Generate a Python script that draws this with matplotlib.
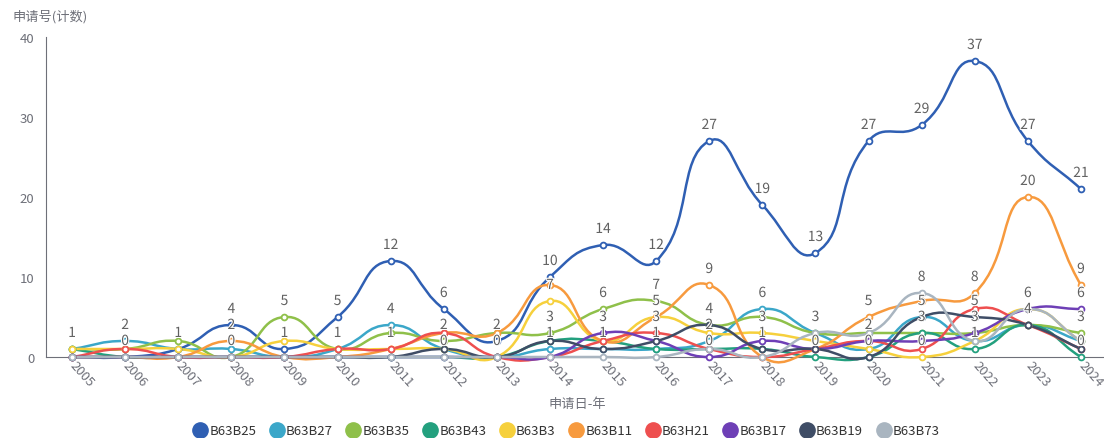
import matplotlib
matplotlib.use("Agg")
import matplotlib.pyplot as plt
import matplotlib.patheffects as pe
from matplotlib.path import Path
from matplotlib.patches import PathPatch
from matplotlib.lines import Line2D
import numpy as np

plt.rcParams["font.family"] = ["Noto Sans CJK SC", "DejaVu Sans"]

# ---------------------------------------------------------------------------
# Data
# ---------------------------------------------------------------------------
years = [str(y) for y in range(2005, 2025)]

series_names = ["B63B25", "B63B27", "B63B35", "B63B43", "B63B3",
                "B63B11", "B63H21", "B63B17", "B63B19", "B63B73"]

b63b25 = [0, 0, 1, 4, 1, 5, 12, 6, 2, 10, 14, 12, 27, 19, 13, 27, 29, 37, 27, 21]
b63b27 = [1, 2, 1, 1, 0, 1, 4, 1, 0, 1, 1, 1, 2, 6, 3, 1, 5, 2, 4, 2]
b63b35 = [1, 1, 2, 0, 5, 1, 3, 2, 3, 3, 6, 7, 4, 5, 3, 3, 3, 3, 4, 3]
b63b43 = [1, 0, 0, 0, 0, 0, 0, 0, 0, 2, 2, 1, 1, 1, 0, 0, 3, 1, 4, 0]
b63b3 = [1, 1, 1, 0, 2, 1, 1, 1, 0, 7, 2, 5, 3, 3, 2, 1, 0, 2, 6, 2]
b63b11 = [0, 0, 0, 2, 0, 0, 1, 3, 3, 9, 2, 5, 9, 0, 1, 5, 7, 8, 20, 9]
b63h21 = [0, 1, 0, 0, 0, 1, 1, 3, 0, 0, 2, 3, 1, 0, 1, 2, 1, 6, 4, 1]
b63b17 = [0, 0, 0, 0, 0, 0, 0, 0, 0, 0, 3, 2, 0, 2, 1, 2, 2, 3, 6, 6]
b63b19 = [0, 0, 0, 0, 0, 0, 0, 1, 0, 2, 1, 2, 4, 1, 1, 0, 5, 5, 4, 1]
b63b73 = [0, 0, 0, 0, 0, 0, 0, 0, 0, 0, 0, 0, 1, 0, 3, 3, 8, 2, 6, 2]

series_values = [b63b25, b63b27, b63b35, b63b43, b63b3,
                 b63b11, b63h21, b63b17, b63b19, b63b73]

colors = ["#2f5fb3", "#3ba7c9", "#8fc04a", "#23a07e", "#f6d03c",
          "#f79a3e", "#ee4f4f", "#6e3fb6", "#3f4d66", "#a9b5c0"]

# data labels that stay visible in the reference: (series, year)
shown_labels = [
    ("B63B3", "2005"), ("B63B27", "2006"), ("B63B25", "2006"),
    ("B63B27", "2007"), ("B63B25", "2008"), ("B63B11", "2008"),
    ("B63B43", "2008"), ("B63B35", "2009"), ("B63B25", "2009"),
    ("B63B25", "2010"), ("B63H21", "2010"), ("B63B25", "2011"),
    ("B63B27", "2011"), ("B63H21", "2011"), ("B63B25", "2012"),
    ("B63B35", "2012"), ("B63B43", "2012"), ("B63B25", "2013"),
    ("B63B43", "2013"), ("B63B25", "2014"), ("B63B3", "2014"),
    ("B63B35", "2014"), ("B63B27", "2014"), ("B63B25", "2015"),
    ("B63B35", "2015"), ("B63B17", "2015"), ("B63B19", "2015"),
    ("B63B25", "2016"), ("B63B35", "2016"), ("B63B11", "2016"),
    ("B63H21", "2016"), ("B63B27", "2016"), ("B63B25", "2017"),
    ("B63B11", "2017"), ("B63B35", "2017"), ("B63B27", "2017"),
    ("B63B17", "2017"), ("B63B25", "2018"), ("B63B27", "2018"),
    ("B63B3", "2018"), ("B63B19", "2018"), ("B63B25", "2019"),
    ("B63B73", "2019"), ("B63B43", "2019"), ("B63B25", "2020"),
    ("B63B11", "2020"), ("B63B17", "2020"), ("B63B19", "2020"),
    ("B63B25", "2021"), ("B63B73", "2021"), ("B63B27", "2021"),
    ("B63B35", "2021"), ("B63B3", "2021"), ("B63B25", "2022"),
    ("B63B11", "2022"), ("B63B19", "2022"), ("B63B35", "2022"),
    ("B63B43", "2022"),
    ("B63B25", "2023"), ("B63B11", "2023"), ("B63B17", "2023"),
    ("B63B19", "2023"), ("B63B25", "2024"), ("B63B11", "2024"),
    ("B63B17", "2024"), ("B63B35", "2024"), ("B63B43", "2024"),
]

# ---------------------------------------------------------------------------
# Figure layout (pixel based, 1104 x 439)
# ---------------------------------------------------------------------------
W, H = 1104, 439
X_LEFT, X_STEP = 45.5, 53.1
Y_ZERO, Y_TOP = 358, 38
YMAX = 40

fig = plt.figure(figsize=(W / 100, H / 100), dpi=100)
ax = fig.add_axes([X_LEFT / W, 1 - Y_ZERO / H, (W - X_LEFT) / W, (Y_ZERO - Y_TOP) / H])
n = len(years)
ax.set_xlim(-0.5, -0.5 + (W - X_LEFT) / X_STEP)
ax.set_ylim(0, YMAX)

px_per_y = (Y_ZERO - Y_TOP) / YMAX


def smooth_path(xs, ys, smooth=0.5):
    """ECharts-like bezier smoothing computed in pixel space."""
    P = np.column_stack([np.asarray(xs, float) * X_STEP, np.asarray(ys, float) * px_per_y])
    verts = [tuple(P[0])]
    codes = [Path.MOVETO]
    cps = []
    for i in range(len(P)):
        cur = P[i]
        prev = P[i - 1] if i > 0 else cur
        nxt = P[i + 1] if i < len(P) - 1 else cur
        v = nxt - prev
        lp = np.hypot(*(cur - prev))
        ln = np.hypot(*(cur - nxt))
        s = lp + ln
        r = ln / s if s > 0 else 0.5
        cp0 = cur - v * smooth * (1 - r)
        cp1 = cur + v * smooth * r
        cps.append((cp0, cp1))
    for i in range(1, len(P)):
        c1 = cps[i - 1][1]
        c0 = cps[i][0]
        verts += [tuple(c1), tuple(c0), tuple(P[i])]
        codes += [Path.CURVE4] * 3
    verts = [(x / X_STEP, y / px_per_y) for x, y in verts]
    return Path(verts, codes)


xs = np.arange(n)
for k in range(len(series_names)):
    vals = series_values[k]
    col = colors[k]
    patch = PathPatch(smooth_path(xs, vals), facecolor="none", edgecolor=col,
                      lw=1.8, zorder=3 + k * 0.1, clip_on=False)
    ax.add_patch(patch)
    ax.plot(xs, vals, ls="none", marker="o", ms=4.2, mfc="white", mec=col,
            mew=1.3, zorder=4 + k * 0.1, clip_on=False)

name_idx = {nm: i for i, nm in enumerate(series_names)}
for nm, yr in shown_labels:
    v = series_values[name_idx[nm]][years.index(yr)]
    ax.annotate(str(v), (years.index(yr), v), xytext=(0, 6.5), textcoords="offset points",
                ha="center", va="bottom", fontsize=10, color="#606060", zorder=10,
                path_effects=[pe.withStroke(linewidth=1.5, foreground="white")])

# axes styling
for side in ("top", "right"):
    ax.spines[side].set_visible(False)
ax.spines["left"].set_color("#6e7079")
ax.spines["bottom"].set_color("#6e7079")

ax.set_yticks([0, 10, 20, 30, 40])
ax.tick_params(axis="y", length=0, pad=8, labelsize=9.5, labelcolor="#6e7079")
ax.set_xticks(xs)
ax.set_xticklabels(years)
ax.tick_params(axis="x", length=0, pad=4, labelsize=9.5, labelcolor="#6e7079")
for lab in ax.get_xticklabels():
    lab.set_rotation(-48)
    lab.set_rotation_mode("anchor")
    lab.set_ha("left")
    lab.set_va("center")

fig.text(12 / W, 1 - 17 / H, "申请号(计数)", fontsize=9.5, color="#6e7079", ha="left", va="center")
fig.text(577 / W, 1 - 405 / H, "申请日-年", fontsize=9.5, color="#6e7079", ha="center", va="center")

handles = [Line2D([], [], ls="none", marker="o", ms=11, mfc=c, mec=c) for c in colors]
fig.legend(handles, series_names, loc="center", bbox_to_anchor=(0.5 + 14 / W, 1 - 432 / H),
           ncol=len(series_names), frameon=False, fontsize=9.5, handletextpad=0.1,
           columnspacing=0.95, handlelength=1.2, labelcolor="#333333")

fig.savefig("out.png", dpi=100)
